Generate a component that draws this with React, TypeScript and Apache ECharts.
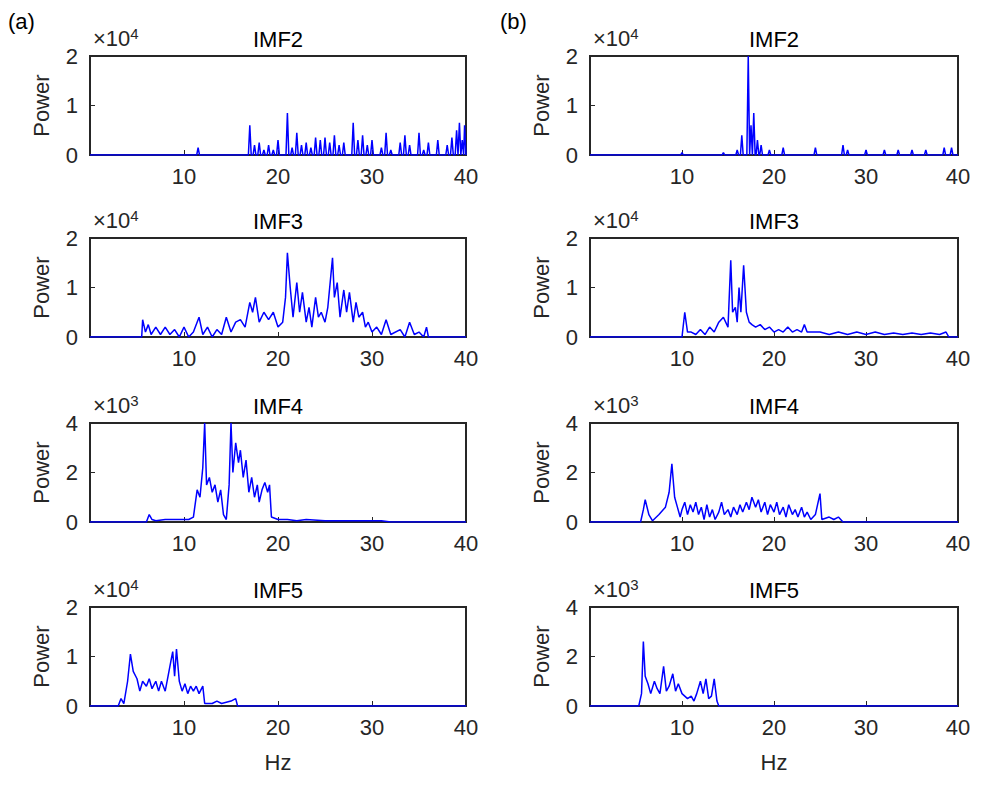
import React, { useEffect, useRef } from "react";
import * as echarts from "echarts";

type P = [number, number][];
const leftIMF2Peaks: P = [[11.5,0.15],[17,0.6],[17.5,0.2],[18,0.25],[18.5,0.1],[19,0.2],[19.5,0.1],[20,0.3],[21,0.85],[21.5,0.15],[22,0.45],[22.5,0.2],[23,0.25],[23.5,0.15],[24,0.35],[24.5,0.3],[25,0.35],[25.5,0.25],[26,0.4],[26.5,0.2],[27,0.25],[28,0.65],[28.5,0.3],[29,0.4],[29.5,0.2],[30,0.3],[31,0.15],[31.5,0.45],[32,0.1],[33,0.25],[33.5,0.4],[34,0.2],[35,0.45],[35.5,0.1],[36,0.25],[37,0.3],[38,0.2],[38.5,0.35],[39,0.5],[39.3,0.65],[39.6,0.3],[39.85,0.6]];
const rightIMF2Peaks: P = [[10,0.05],[14.5,0.05],[16,0.1],[16.5,0.4],[17.2,2.0],[17.5,0.6],[17.8,0.85],[18.2,0.3],[18.6,0.2],[19.5,0.1],[21,0.15],[24.5,0.15],[27.5,0.2],[28,0.1],[30,0.1],[32,0.1],[33.5,0.1],[35,0.1],[36.5,0.1],[38.5,0.15],[39.3,0.15]];
const leftIMF3: P = [[0,0],[5.5,0],[5.6,0.35],[5.9,0.1],[6.2,0.25],[6.5,0.05],[7,0.2],[7.5,0.05],[8,0.2],[8.5,0.05],[9,0.15],[9.5,0],[10,0.2],[10.5,0],[11,0.1],[11.6,0.4],[12,0.05],[12.5,0.2],[13,0],[13.5,0.15],[14,0.05],[14.5,0.4],[15,0.1],[15.5,0.3],[16,0.35],[16.5,0.2],[17,0.7],[17.3,0.5],[17.6,0.8],[18,0.3],[18.5,0.5],[19,0.35],[19.5,0.5],[20,0.2],[20.5,0.3],[20.8,0.8],[21,1.7],[21.3,1.0],[21.6,0.4],[22,1.1],[22.3,0.5],[22.6,0.9],[23,0.3],[23.3,0.6],[23.6,0.2],[24,0.8],[24.3,0.4],[24.6,0.5],[25,0.3],[25.3,0.6],[25.6,1.2],[25.8,1.6],[26,0.8],[26.3,1.1],[26.6,0.4],[27,0.95],[27.3,0.5],[27.6,0.9],[28,0.3],[28.3,0.7],[28.6,0.4],[29,0.5],[29.3,0.2],[29.6,0.3],[30,0.1],[30.5,0.2],[31,0.05],[31.5,0.35],[32,0.05],[33,0.15],[33.5,0],[34,0.3],[34.5,0.05],[35,0.1],[35.5,0],[35.8,0.2],[36,0],[40,0]];
const rightIMF3: P = [[0,0],[10,0],[10.3,0.5],[10.6,0.1],[11,0.1],[11.5,0.05],[12,0.15],[12.5,0.05],[13,0.2],[13.5,0.1],[14,0.3],[14.5,0.4],[15,0.2],[15.3,1.55],[15.5,0.5],[15.8,0.6],[16,0.3],[16.2,1.0],[16.4,0.5],[16.7,1.45],[17,0.5],[17.3,0.3],[17.6,0.25],[18,0.2],[18.5,0.25],[19,0.15],[19.5,0.2],[20,0.1],[20.5,0.15],[21,0.1],[21.5,0.2],[22,0.1],[22.5,0.15],[23,0.1],[23.3,0.25],[23.6,0.1],[24,0.1],[25,0.1],[26,0.05],[27,0.1],[28,0.05],[29,0.1],[30,0.05],[31,0.1],[32,0.05],[33,0.08],[34,0.05],[35,0.08],[36,0.05],[37,0.08],[38,0.05],[38.7,0.1],[39,0],[40,0]];
const leftIMF4: P = [[0,0],[6,0],[6.3,0.3],[6.6,0.1],[7,0.05],[8,0.1],[9,0.1],[10,0.1],[10.5,0.1],[11,0.2],[11.4,1.3],[11.7,1.0],[12,2.2],[12.2,4.0],[12.4,1.5],[12.7,1.8],[13,1.2],[13.3,1.5],[13.6,0.8],[13.9,1.3],[14.2,0.3],[14.5,0.1],[14.8,1.5],[15,4.0],[15.2,2.0],[15.5,3.2],[15.8,2.4],[16,2.9],[16.3,1.8],[16.6,2.5],[16.9,1.2],[17.2,1.8],[17.5,1.0],[17.8,1.5],[18,0.8],[18.3,1.3],[18.6,1.6],[18.9,1.2],[19.1,1.5],[19.3,0.2],[20,0.1],[21,0.1],[22,0.05],[23,0.1],[25,0.05],[27,0.05],[29,0.05],[31,0.05],[32,0],[40,0]];
const rightIMF4: P = [[0,0],[5.5,0],[5.8,0.5],[6,0.9],[6.4,0.3],[6.8,0.05],[7.5,0.3],[8.2,0.6],[8.6,1.2],[8.9,2.35],[9.2,1.0],[9.5,0.6],[9.8,0.2],[10,0.5],[10.3,0.8],[10.6,0.3],[10.9,0.7],[11.2,0.4],[11.5,0.8],[11.8,0.3],[12.1,0.6],[12.4,0.1],[12.7,0.7],[13,0.2],[13.3,0.5],[13.6,0.1],[14,0.4],[14.3,0.8],[14.6,0.3],[15,0.5],[15.3,0.2],[15.6,0.6],[16,0.3],[16.3,0.7],[16.6,0.4],[17,0.8],[17.3,0.5],[17.6,1.0],[18,0.6],[18.3,0.9],[18.6,0.4],[19,0.8],[19.3,0.3],[19.6,0.7],[20,0.4],[20.3,0.8],[20.6,0.3],[21,0.6],[21.3,0.2],[21.6,0.7],[22,0.3],[22.3,0.5],[22.6,0.2],[23,0.6],[23.3,0.2],[23.6,0.4],[24,0.1],[24.5,0.3],[25,1.15],[25.2,0.1],[26,0.2],[26.5,0.1],[27,0.2],[27.5,0],[40,0]];
const leftIMF5: P = [[0,0],[3,0],[3.3,0.15],[3.6,0.05],[4,0.5],[4.3,1.05],[4.6,0.7],[5,0.55],[5.3,0.3],[5.6,0.5],[6,0.4],[6.3,0.55],[6.6,0.35],[7,0.5],[7.3,0.3],[7.6,0.5],[8,0.3],[8.3,0.6],[8.6,0.9],[8.8,1.1],[9,0.6],[9.2,1.15],[9.5,0.5],[9.8,0.3],[10.1,0.45],[10.4,0.25],[10.7,0.4],[11,0.3],[11.3,0.4],[11.6,0.25],[12,0.4],[12.2,0.05],[13,0.05],[13.5,0.1],[14,0.05],[15,0.1],[15.5,0.15],[15.7,0],[40,0]];
const rightIMF5: P = [[0,0],[5.3,0],[5.6,0.5],[5.8,2.6],[6,1.2],[6.3,0.9],[6.6,0.5],[7,1.0],[7.3,0.7],[7.6,0.5],[8,1.6],[8.3,0.6],[8.6,0.8],[9,1.3],[9.3,0.6],[9.6,0.9],[10,0.5],[10.3,0.4],[10.6,0.3],[11,0.4],[11.3,0.2],[11.6,0.5],[12,1.0],[12.3,0.5],[12.6,1.1],[12.9,0.3],[13.2,0.4],[13.5,1.1],[13.8,0.2],[14,0],[40,0]];

const titles = ["IMF2", "IMF3", "IMF4", "IMF5"];
const xTicks = [10, 20, 30, 40];

function spikes(peaks: P): P {
  const out: P = [[0, 0]];
  for (const [x, v] of peaks) out.push([x - 0.15, 0], [x, v], [x + 0.15, 0]);
  out.push([40, 0]);
  return out;
}

const panels = [
  { col: 0, row: 0, data: spikes(leftIMF2Peaks), max: 2, exp: "4" },
  { col: 0, row: 1, data: leftIMF3, max: 2, exp: "4" },
  { col: 0, row: 2, data: leftIMF4, max: 4, exp: "3" },
  { col: 0, row: 3, data: leftIMF5, max: 2, exp: "4" },
  { col: 1, row: 0, data: spikes(rightIMF2Peaks), max: 2, exp: "4" },
  { col: 1, row: 1, data: rightIMF3, max: 2, exp: "4" },
  { col: 1, row: 2, data: rightIMF4, max: 4, exp: "3" },
  { col: 1, row: 3, data: rightIMF5, max: 4, exp: "3" },
];

const F = "Liberation Sans, Arial, sans-serif";
const FS = 22;

export default function App() {
  const ref = useRef<HTMLDivElement>(null);
  useEffect(() => {
    document.body.style.margin = "0";
    const chart = echarts.init(ref.current!, undefined, { renderer: "svg" });
    const lefts = [90, 590];
    const widths = [376, 368];
    const tops = [56, 238, 423, 607];
    const h = 99;
    const grid: any[] = [], xAxis: any[] = [], yAxis: any[] = [], series: any[] = [], graphic: any[] = [];
    panels.forEach((p, i) => {
      const left = lefts[p.col], top = tops[p.row], w = widths[p.col];
      grid.push({ left, top, width: w, height: h, show: true, borderColor: "#262626", borderWidth: 2, backgroundColor: "#fff" });
      xAxis.push({
        type: "value", gridIndex: i, min: 0, max: 40, interval: 10,
        name: p.row === 3 ? "Hz" : "", nameLocation: "middle", nameGap: 45,
        nameTextStyle: { fontFamily: F, fontSize: FS, color: "#262626" },
        axisLine: { show: false }, splitLine: { show: false },
        axisTick: { inside: true, length: 5, lineStyle: { color: "#262626" } },
        axisLabel: { fontFamily: F, fontSize: FS, color: "#262626", margin: 10, formatter: (v: number) => (xTicks.includes(v) ? String(v) : "") },
      });
      yAxis.push({
        type: "value", gridIndex: i, min: 0, max: p.max, interval: p.max / 2,
        name: "Power", nameLocation: "middle", nameGap: 38,
        nameTextStyle: { fontFamily: F, fontSize: FS, color: "#262626" },
        axisLine: { show: false }, splitLine: { show: false },
        axisTick: { inside: true, length: 5, lineStyle: { color: "#262626" } },
        axisLabel: { fontFamily: F, fontSize: FS, color: "#262626", margin: 12 },
      });
      series.push({
        type: "line", xAxisIndex: i, yAxisIndex: i, data: p.data, showSymbol: false,
        lineStyle: { color: "#0000ff", width: 1.5 }, z: 1,
      });
      graphic.push({
        type: "text", left: left + 3, top: top - 30,
        style: { text: "×10{e|" + p.exp + "}", rich: { e: { fontSize: 15, verticalAlign: "top", fontFamily: F, fill: "#262626", padding: [0, 0, 10, 0] } }, fontFamily: F, fontSize: FS, fill: "#262626" },
      });
      graphic.push({
        type: "text", x: left + w / 2, y: top - 28,
        style: { text: titles[p.row], fontFamily: F, fontSize: FS, fill: "#000", align: "center" },
      });
    });
    graphic.push({ type: "text", left: 8, top: 10, style: { text: "(a)", fontFamily: F, fontSize: FS, fill: "#000" } });
    graphic.push({ type: "text", left: 500, top: 10, style: { text: "(b)", fontFamily: F, fontSize: FS, fill: "#000" } });
    chart.setOption({ animation: false, backgroundColor: "#fff", grid, xAxis, yAxis, series, graphic });
    return () => chart.dispose();
  }, []);
  return <div ref={ref} style={{ width: 981, height: 787 }} />;
}
